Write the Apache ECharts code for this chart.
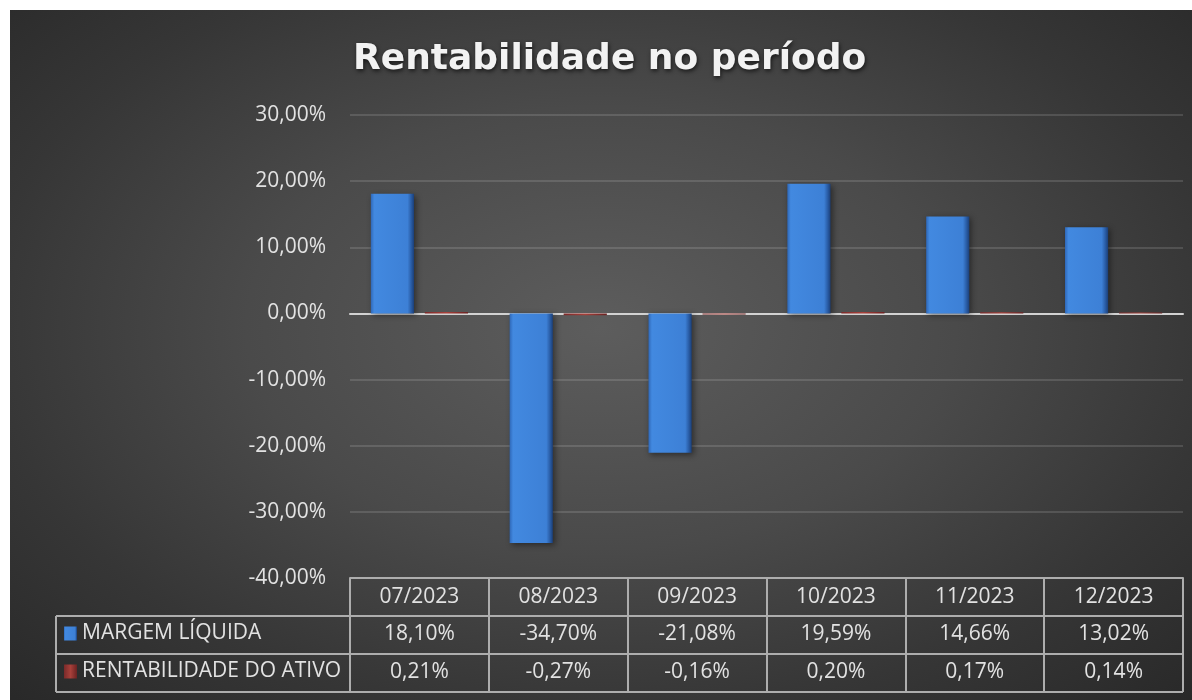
<!DOCTYPE html>
<html>
<head>
<meta charset="utf-8">
<script src="https://cdn.jsdelivr.net/npm/echarts@6/dist/echarts.min.js"></script>
<style>
  html, body { margin: 0; padding: 0; background: #ffffff; }
  #chart {
    position: absolute; left: 10px; top: 10px; width: 1182px; height: 690px;
    background: radial-gradient(ellipse 75% 80% at 50% 46%, #5d5d5d 0%, #4a4a4a 40%, #363636 70%, #262626 100%);
  }
</style>
</head>
<body>
<div id="chart"></div>
<script>
const categories = ['07/2023', '08/2023', '09/2023', '10/2023', '11/2023', '12/2023'];
const margemLiquida = [18.10, -34.70, -21.08, 19.59, 14.66, 13.02];
const rentabilidadeAtivo = [0.21, -0.27, -0.16, 0.20, 0.17, 0.14];
const seriesNames = ['MARGEM LÍQUIDA', 'RENTABILIDADE DO ATIVO'];
const yTicks = { min: -40, max: 30, interval: 10 };

const fmt = v => v.toFixed(2).replace('.', ',') + '%';
const FONT = '"Open Sans", "Noto Sans", sans-serif';
const FS = 21;
const TXT = '#e2e2e2';
const LINE = '#adadad';

const GRID = { left: 340, right: 9, top: 105, bottom: 122 };
const W = 1182, H = 690;
const gridBottomY = H - GRID.bottom;      // 568
const rowLine1 = 606, rowLine2 = 644, rowBottom = 682;
const legendBoxLeft = 46;
const gridRightX = W - GRID.right;

const blueGrad = new echarts.graphic.LinearGradient(0, 0, 1, 0, [
  { offset: 0, color: '#2f68b8' },
  { offset: 0.08, color: '#4289e0' },
  { offset: 0.85, color: '#3d80d6' },
  { offset: 0.93, color: '#2a5ea8' },
  { offset: 1, color: '#1b3f78' }
]);
const redGrad = new echarts.graphic.LinearGradient(0, 0, 1, 0, [
  { offset: 0, color: '#7a2a2a' },
  { offset: 0.5, color: '#a8403a' },
  { offset: 1, color: '#6a2222' }
]);

const tableAxisBase = {
  type: 'category',
  gridIndex: 0,
  position: 'bottom',
  axisLine: { show: false, onZero: false },
  axisTick: { show: false },
  splitLine: { show: false },
  axisPointer: { show: false }
};
const labelBase = {
  interval: 0,
  color: TXT,
  fontFamily: FONT,
  fontSize: FS,
  lineHeight: FS,
  verticalAlign: 'middle'
};

const chart = echarts.init(document.getElementById('chart'), null, { renderer: 'canvas' });

chart.setOption({
  backgroundColor: 'transparent',
  animation: false,
  title: {
    text: 'Rentabilidade no período',
    left: 338,
    top: 27,
    textStyle: {
      fontFamily: '"DejaVu Sans", sans-serif',
      fontWeight: 'bold',
      fontSize: 36,
      color: '#f2f2f2',
      textShadowColor: 'rgba(0,0,0,0.65)',
      textShadowBlur: 4,
      textShadowOffsetX: 1,
      textShadowOffsetY: 2
    }
  },
  legend: {
    orient: 'vertical',
    left: 54,
    top: 613,
    padding: 0,
    itemWidth: 13,
    itemHeight: 14,
    itemGap: 17,
    icon: 'rect',
    data: seriesNames,
    textStyle: { color: TXT, fontFamily: FONT, fontSize: FS, lineHeight: FS }
  },
  grid: GRID,
  xAxis: [
    {
      type: 'category',
      data: categories,
      axisLine: { show: true, onZero: true, lineStyle: { color: '#d2d2d2', width: 2 } },
      axisTick: { show: false },
      axisLabel: { show: false },
      splitLine: { show: false }
    },
    Object.assign({}, tableAxisBase, {
      data: categories,
      axisLine: { show: true, onZero: false, lineStyle: { color: LINE, width: 2 } },
      axisTick: { show: true, interval: 0, alignWithLabel: false, length: rowBottom - gridBottomY, lineStyle: { color: LINE, width: 2 } },
      axisLabel: Object.assign({}, labelBase, { margin: 19 })
    }),
    Object.assign({}, tableAxisBase, {
      data: margemLiquida.map(fmt),
      axisLabel: Object.assign({}, labelBase, { margin: 56 })
    }),
    Object.assign({}, tableAxisBase, {
      data: rentabilidadeAtivo.map(fmt),
      axisLabel: Object.assign({}, labelBase, { margin: 94 })
    })
  ],
  yAxis: {
    type: 'value',
    min: yTicks.min,
    max: yTicks.max,
    interval: yTicks.interval,
    axisLine: { show: false },
    axisTick: { show: false },
    axisLabel: {
      color: TXT, fontFamily: FONT, fontSize: FS, margin: 24,
      formatter: v => fmt(v)
    },
    splitLine: { lineStyle: { color: 'rgba(255,255,255,0.13)', width: 2 } }
  },
  series: [
    {
      name: seriesNames[0],
      type: 'bar',
      xAxisIndex: 0,
      data: margemLiquida,
      barCategoryGap: '30%',
      barGap: '25%',
      itemStyle: {
        color: blueGrad,
        shadowColor: 'rgba(0,0,0,0.45)',
        shadowBlur: 6,
        shadowOffsetX: 2,
        shadowOffsetY: 2
      }
    },
    {
      name: seriesNames[1],
      type: 'bar',
      xAxisIndex: 0,
      data: rentabilidadeAtivo,
      barCategoryGap: '30%',
      barGap: '25%',
      itemStyle: { color: redGrad }
    }
  ],
  graphic: [
    { type: 'line', shape: { x1: legendBoxLeft, y1: rowLine1, x2: gridRightX, y2: rowLine1 }, style: { stroke: LINE, lineWidth: 2 } },
    { type: 'line', shape: { x1: legendBoxLeft, y1: rowLine2, x2: gridRightX, y2: rowLine2 }, style: { stroke: LINE, lineWidth: 2 } },
    { type: 'line', shape: { x1: legendBoxLeft, y1: rowBottom, x2: gridRightX, y2: rowBottom }, style: { stroke: LINE, lineWidth: 2 } },
    { type: 'line', shape: { x1: legendBoxLeft, y1: rowLine1, x2: legendBoxLeft, y2: rowBottom }, style: { stroke: LINE, lineWidth: 2 } }
  ]
});
</script>
</body>
</html>
